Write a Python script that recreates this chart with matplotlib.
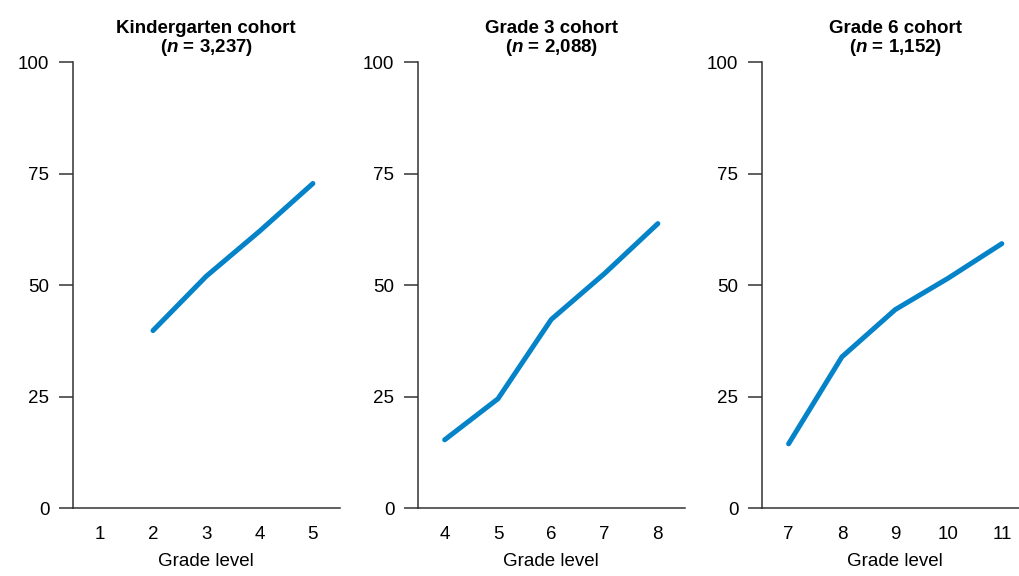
import matplotlib.pyplot as plt

plt.rcParams['font.family'] = ['Liberation Sans', 'DejaVu Sans']
plt.rcParams['mathtext.fontset'] = 'custom'
plt.rcParams['mathtext.it'] = 'Liberation Sans:bold:italic'

# values (percent)
titles = ['Kindergarten cohort', 'Grade 3 cohort', 'Grade 6 cohort']
sizes = ['3,237', '2,088', '1,152']
k_grades = [2, 3, 4, 5]
k_vals = [39.8, 52.0, 62.1, 72.8]
g3_grades = [4, 5, 6, 7, 8]
g3_vals = [15.3, 24.5, 42.3, 52.6, 63.8]
g6_grades = [7, 8, 9, 10, 11]
g6_vals = [14.4, 33.9, 44.5, 51.6, 59.3]
x_ticks = [[1, 2, 3, 4, 5], [4, 5, 6, 7, 8], [7, 8, 9, 10, 11]]
y_ticks = [0, 25, 50, 75, 100]

series = [(k_grades, k_vals), (g3_grades, g3_vals), (g6_grades, g6_vals)]
blue = '#0583C9'
spine_col = '#333333'

fig = plt.figure(figsize=(10.2, 5.76), dpi=100)
lefts = [0.0716, 0.4098, 0.747]

for i in range(3):
    ax = fig.add_axes([lefts[i], 0.118, 0.2613, 0.774])
    xs, ys = series[i]
    ax.plot(xs, ys, color=blue, lw=3.6, solid_capstyle='round', solid_joinstyle='round')
    ax.set_xlim(x_ticks[i][0] - 0.5, x_ticks[i][-1] + 0.5)
    ax.set_ylim(0, 100)
    ax.set_xticks(x_ticks[i])
    ax.set_yticks(y_ticks)
    for s in ['top', 'right']:
        ax.spines[s].set_visible(False)
    for s in ['left', 'bottom']:
        ax.spines[s].set_color(spine_col)
        ax.spines[s].set_linewidth(1.1)
    ax.tick_params(axis='y', length=10, width=1.1, color=spine_col, pad=7, labelsize=13.5)
    ax.tick_params(axis='x', length=0, pad=13, labelsize=13.5)
    ax.set_xlabel('Grade level', fontsize=13.5, labelpad=7)
    ax.set_title(titles[i] + '\n($n$ = ' + sizes[i] + ')', fontsize=13.5,
                 fontweight='bold', pad=7, linespacing=1.05)

fig.savefig('out.png', dpi=100)
